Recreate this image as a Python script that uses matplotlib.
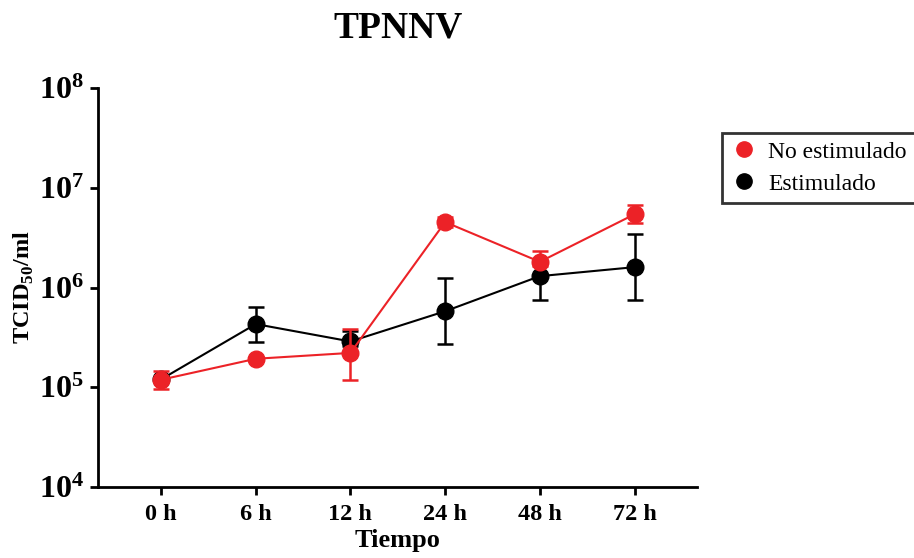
import numpy as np
import matplotlib
matplotlib.use('Agg')
import matplotlib.pyplot as plt
from matplotlib.lines import Line2D

plt.rcParams['font.family'] = ['Liberation Serif', 'DejaVu Serif']
plt.rcParams['mathtext.fontset'] = 'custom'
plt.rcParams['mathtext.rm'] = 'Liberation Serif:bold'
plt.rcParams['mathtext.bf'] = 'Liberation Serif:bold'

times = ['0 h', '6 h', '12 h', '24 h', '48 h', '72 h']

no_estim = [1.19e5, 1.93e5, 2.21e5, 4.53e6, 1.81e6, 5.42e6]
no_estim_lo = [0.97e5, 1.85e5, 1.18e5, 4.0e6, 1.65e6, 4.47e6]
no_estim_hi = [1.47e5, 2.0e5, 3.85e5, 5.1e6, 2.32e6, 6.67e6]

estim = [1.2e5, 4.3e5, 2.88e5, 5.78e5, 1.30e6, 1.6e6]
estim_lo = [1.15e5, 2.85e5, 2.6e5, 2.7e5, 7.45e5, 7.57e5]
estim_hi = [1.25e5, 6.4e5, 3.7e5, 1.24e6, 1.8e6, 3.41e6]

decades = [4, 5, 6, 7, 8]

red = '#EC2227'

fig = plt.figure(figsize=(9.14, 5.58), dpi=100)
ax = fig.add_axes([0.1072, 0.1272, 0.6554, 0.7151])

x = np.arange(len(times))


def draw(vals, lo, hi, color, z):
    vals = np.array(vals)
    yerr = [vals - np.array(lo), np.array(hi) - vals]
    ax.errorbar(x, vals, yerr=yerr, color=color, marker='o', markersize=12,
                lw=1.5, elinewidth=1.8, capsize=6, capthick=1.8, zorder=z)


draw(estim, estim_lo, estim_hi, 'black', 3)
draw(no_estim, no_estim_lo, no_estim_hi, red, 4)

ax.set_yscale('log')
ax.set_ylim(10 ** decades[0], 10 ** decades[-1])
ax.set_yticks([10.0 ** d for d in decades])
ax.set_yticklabels([r'$\mathbf{10^{%d}}$' % d for d in decades], fontsize=23)
ax.yaxis.set_minor_locator(matplotlib.ticker.NullLocator())

ax.set_xlim(-0.666, 5.66)
ax.set_xticks(x)
ax.set_xticklabels(times, fontsize=17.5, fontweight='bold')

for s in ['top', 'right']:
    ax.spines[s].set_visible(False)
for s in ['left', 'bottom']:
    ax.spines[s].set_linewidth(2)
ax.tick_params(width=2, length=6, direction='out')
ax.tick_params(axis='y', pad=4)
ax.tick_params(axis='x', pad=6)

ax.set_xlabel('Tiempo', fontsize=19, fontweight='bold', labelpad=3)
ax.set_ylabel(r'TCID$_{\mathbf{50}}$/ml', fontsize=17.5, fontweight='bold', labelpad=2)
fig.text(0.436, 0.95, 'TPNNV', fontsize=27, fontweight='bold', ha='center', va='center')

handles = [Line2D([], [], ls='none', marker='o', color=red, markersize=11),
           Line2D([], [], ls='none', marker='o', color='black', markersize=11)]
leg = fig.legend(handles, ['No estimulado', 'Estimulado'], loc='upper left',
                 bbox_to_anchor=(0.79, 0.762), borderaxespad=0, fontsize=17,
                 frameon=True, fancybox=False, edgecolor='black', borderpad=0.35,
                 handletextpad=0.4, handlelength=1.2, labelspacing=0.45)
leg.get_frame().set_linewidth(2)

fig.savefig('out.png', dpi=100)
